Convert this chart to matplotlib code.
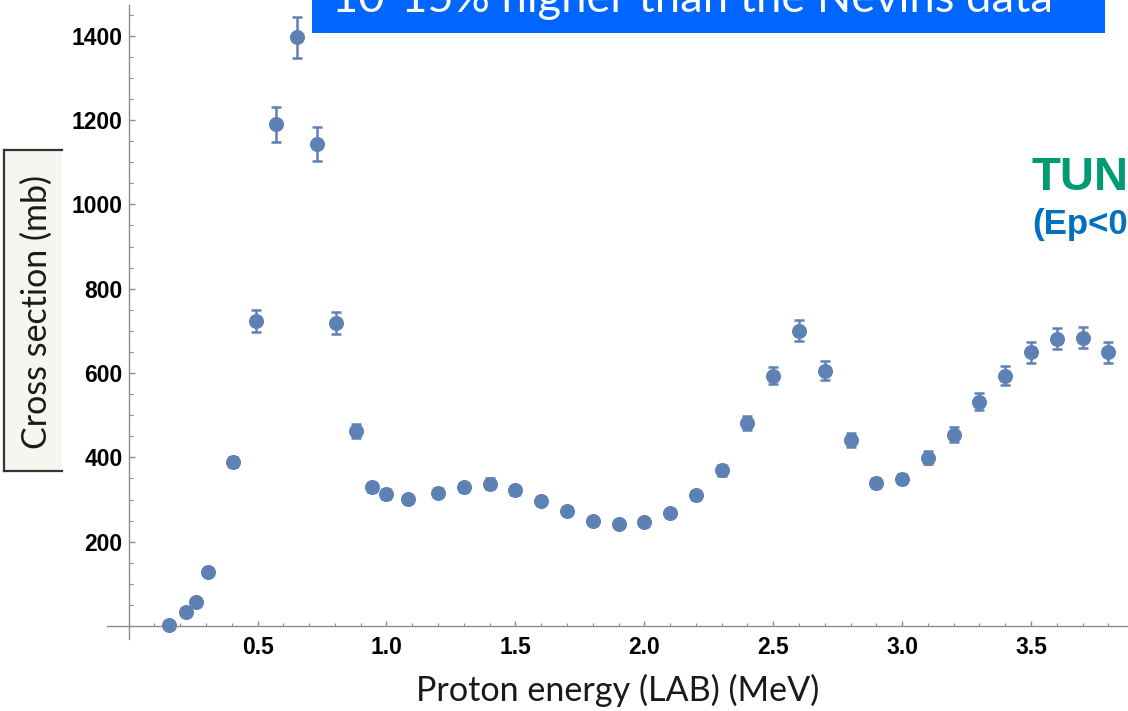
import matplotlib
matplotlib.use("Agg")
import matplotlib.pyplot as plt
from matplotlib.patches import Rectangle
from matplotlib.lines import Line2D

# proton energy (MeV) and cross section (mb)
energy = [0.156, 0.222, 0.263, 0.306, 0.404, 0.495, 0.573, 0.652, 0.732, 0.804,
          0.881, 0.942, 1.0, 1.083, 1.2, 1.3, 1.4, 1.5, 1.6, 1.7,
          1.8, 1.9, 2.0, 2.1, 2.2, 2.3, 2.4, 2.5, 2.6, 2.7,
          2.8, 2.9, 3.0, 3.1, 3.2, 3.3, 3.4, 3.5, 3.6, 3.7, 3.8]
sigma = [2, 34, 56, 128, 389, 724, 1190, 1396, 1144, 719,
         462, 329, 313, 301, 316, 329, 338, 322, 297, 273,
         248, 242, 246, 267, 310, 369, 481, 594, 700, 606,
         441, 340, 348, 399, 454, 532, 594, 649, 681, 684, 649]
err = [1, 3, 4, 6, 13, 26, 42, 49, 40, 26,
       17, 11, 11, 10, 11, 11, 12, 11, 10, 9,
       9, 8, 9, 9, 11, 13, 17, 21, 25, 22,
       16, 12, 12, 15, 18, 20, 22, 24, 25, 25, 24]

xticks = [0.5, 1.0, 1.5, 2.0, 2.5, 3.0, 3.5]
xticklabels = ["0.5", "1.0", "1.5", "2.0", "2.5", "3.0", "3.5"]
yticks = [200, 400, 600, 800, 1000, 1200, 1400]

W, H = 1128, 711
fig = plt.figure(figsize=(W / 100, H / 100), dpi=100)
ax = fig.add_axes([107 / W, 1 - 639 / H, 1 - 107 / W, (639 - 5) / H])
ax.set_xlim(-0.084, 3.876)
ax.set_ylim(-30.8, 1473)

col = "#5E81B5"
ax.errorbar(energy, sigma, yerr=err, fmt="o", color=col, ms=9.8, mec=col,
            elinewidth=1.8, capsize=3.6, capthick=1.8, zorder=3, clip_on=False)

for s in ["top", "right"]:
    ax.spines[s].set_visible(False)
ax.spines["left"].set_position(("data", 0))
ax.spines["bottom"].set_position(("data", 0))
for s in ["left", "bottom"]:
    ax.spines[s].set_color("#8c8c8c")
    ax.spines[s].set_linewidth(1.0)

ax.set_xticks(xticks)
ax.set_xticklabels(xticklabels)
ax.set_xticks([i / 10 for i in range(1, 39) if i % 5 != 0], minor=True)
ax.set_yticks(yticks)
ax.set_yticklabels([str(v) for v in yticks])
ax.set_yticks([v for v in range(50, 1500, 50) if v % 200 != 0], minor=True)

ax.tick_params(axis="both", which="both", direction="in", color="#8c8c8c")
ax.tick_params(axis="x", which="major", length=3.8, width=1, pad=7.5)
ax.tick_params(axis="x", which="minor", length=2.2, width=0.8)
ax.tick_params(axis="y", which="major", length=4.4, width=1, pad=4.5)
ax.tick_params(axis="y", which="minor", length=2.9, width=0.8)
for lab in ax.get_xticklabels() + ax.get_yticklabels():
    lab.set_fontfamily("Liberation Sans")
    lab.set_fontweight("bold")
    lab.set_fontsize(16.5)

# x axis title
fig.text(618 / W, 1 - 701 / H, "Proton energy (LAB) (MeV)", ha="center",
         va="baseline", fontsize=24.6, family="Lato", color="#1a1a1a")

# y axis title in its box
fig.patches.append(Rectangle((3 / W, 1 - 471 / H), 59 / W, 321 / H,
                             transform=fig.transFigure, facecolor="#f6f5ef",
                             edgecolor="none", zorder=0))
for xs, ys in [([4, 4], [150, 471]), ([4, 62], [150, 150]), ([4, 62], [471, 471])]:
    fig.lines.append(Line2D([x / W for x in xs], [1 - y / H for y in ys],
                            transform=fig.transFigure, color="#333333", lw=1.6))
fig.text(37 / W, 1 - 312 / H, "Cross section (mb)", rotation=90, ha="center",
         va="center", fontsize=24.5, family="Lato", color="#1a1a1a")

# banner at the top
fig.patches.append(Rectangle((312 / W, 1 - 33 / H), (1105 - 312) / W, 40 / H,
                             transform=fig.transFigure, facecolor="#0066FF",
                             edgecolor="none", zorder=5))
fig.text(332 / W, 1 - 12 / H, "10-15% higher than the Nevins data", ha="left",
         va="baseline", fontsize=32.6, family="Lato", color="white", zorder=6)

# side labels cut by the right edge
fig.text(1031 / W, 1 - 190 / H, "TUN", ha="left", va="baseline", fontsize=34,
         family="Liberation Sans", fontweight="bold", color="#009B72")
fig.text(1032 / W, 1 - 234 / H, "(Ep<0", ha="left", va="baseline", fontsize=25,
         family="Liberation Sans", fontweight="bold", color="#0070C0")

fig.savefig("out.png", dpi=100)
